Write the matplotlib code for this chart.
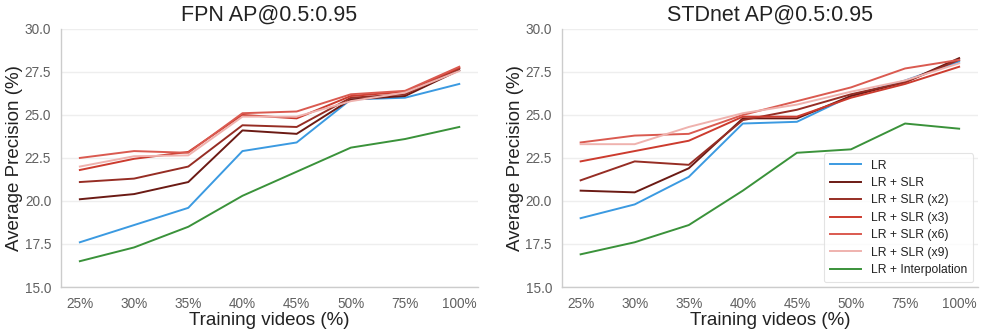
import matplotlib
matplotlib.use("Agg")
import matplotlib.pyplot as plt

plt.rcParams['font.family'] = ['Liberation Sans', 'DejaVu Sans']

x_labels = ["25%", "30%", "35%", "40%", "45%", "50%", "75%", "100%"]

series_names = ["LR", "LR + SLR", "LR + SLR (x2)", "LR + SLR (x3)",
                "LR + SLR (x6)", "LR + SLR (x9)", "LR + Interpolation"]
series_colors = ["#3b9ae1", "#6b1a14", "#962d24", "#cc3b2e",
                 "#da5a50", "#efb2ae", "#3a923a"]

# FPN results
fpn_lr = [17.6, 18.6, 19.6, 22.9, 23.4, 25.9, 26.0, 26.8]
fpn_slr = [20.1, 20.4, 21.1, 24.1, 23.9, 25.9, 26.1, 27.6]
fpn_slr_x2 = [21.1, 21.3, 22.0, 24.4, 24.3, 26.0, 26.2, 27.7]
fpn_slr_x3 = [21.8, 22.45, 22.85, 25.0, 24.8, 26.1, 26.35, 27.75]
fpn_slr_x6 = [22.5, 22.9, 22.8, 25.1, 25.2, 26.2, 26.4, 27.8]
fpn_slr_x9 = [22.0, 22.6, 22.65, 24.9, 24.9, 25.8, 26.3, 27.55]
fpn_interp = [16.5, 17.3, 18.5, 20.3, 21.7, 23.1, 23.6, 24.3]

# STDnet results
std_lr = [19.0, 19.8, 21.4, 24.5, 24.6, 26.1, 27.0, 28.1]
std_slr = [20.6, 20.5, 21.9, 24.8, 24.8, 26.1, 26.9, 28.3]
std_slr_x2 = [21.2, 22.3, 22.1, 24.7, 25.3, 26.2, 26.9, 28.2]
std_slr_x3 = [22.3, 22.9, 23.5, 24.9, 24.9, 26.0, 26.8, 27.8]
std_slr_x6 = [23.4, 23.8, 23.9, 25.0, 25.8, 26.6, 27.7, 28.2]
std_slr_x9 = [23.3, 23.3, 24.3, 25.1, 25.6, 26.35, 27.0, 28.0]
std_interp = [16.9, 17.6, 18.6, 20.6, 22.8, 23.0, 24.5, 24.2]

y_ticks = [15.0, 17.5, 20.0, 22.5, 25.0, 27.5, 30.0]

fpn = [fpn_lr, fpn_slr, fpn_slr_x2, fpn_slr_x3, fpn_slr_x6, fpn_slr_x9, fpn_interp]
std = [std_lr, std_slr, std_slr_x2, std_slr_x3, std_slr_x6, std_slr_x9, std_interp]

fig = plt.figure(figsize=(9.82, 3.32), dpi=100)
ax1 = fig.add_axes([0.062, 0.1355, 0.425, 0.7775])
ax2 = fig.add_axes([0.572, 0.1355, 0.424, 0.7775])

xs = list(range(len(x_labels)))

def style(ax, title):
    ax.set_xlim(-0.35, len(x_labels) - 1 + 0.35)
    ax.set_ylim(15.0, 30.0)
    ax.set_yticks(y_ticks)
    ax.set_yticklabels([f"{v:.1f}" for v in y_ticks])
    ax.set_xticks(xs)
    ax.set_xticklabels(x_labels)
    ax.tick_params(axis='both', length=0, labelsize=9.8, labelcolor='#606060', pad=7)
    ax.grid(axis='y', color='#eeeeee', linewidth=1.0)
    ax.set_axisbelow(True)
    for s in ['top', 'right']:
        ax.spines[s].set_visible(False)
    for s in ['left', 'bottom']:
        ax.spines[s].set_color('#cccccc')
        ax.spines[s].set_linewidth(1.0)
    ax.set_title(title, fontsize=15.5, color='#222222', pad=6)
    ax.set_xlabel("Training videos (%)", fontsize=13.5, color='#222222', labelpad=1)
    ax.set_ylabel("Average Precision (%)", fontsize=13.5, color='#222222', labelpad=1)

for ax, data in ((ax1, fpn), (ax2, std)):
    for name, col, vals in zip(series_names, series_colors, data):
        ax.plot(xs, vals, color=col, linewidth=1.4, label=name)

style(ax1, "FPN AP@0.5:0.95")
style(ax2, "STDnet AP@0.5:0.95")

leg = ax2.legend(loc='lower right', fontsize=8.7, frameon=True, fancybox=True,
                 borderaxespad=0.4, handlelength=2.6, labelspacing=0.45,
                 borderpad=0.5)
leg.get_frame().set_edgecolor('#dddddd')
leg.get_frame().set_linewidth(0.8)
for t in leg.get_texts():
    t.set_color('#222222')

fig.savefig("out.png", dpi=100)
